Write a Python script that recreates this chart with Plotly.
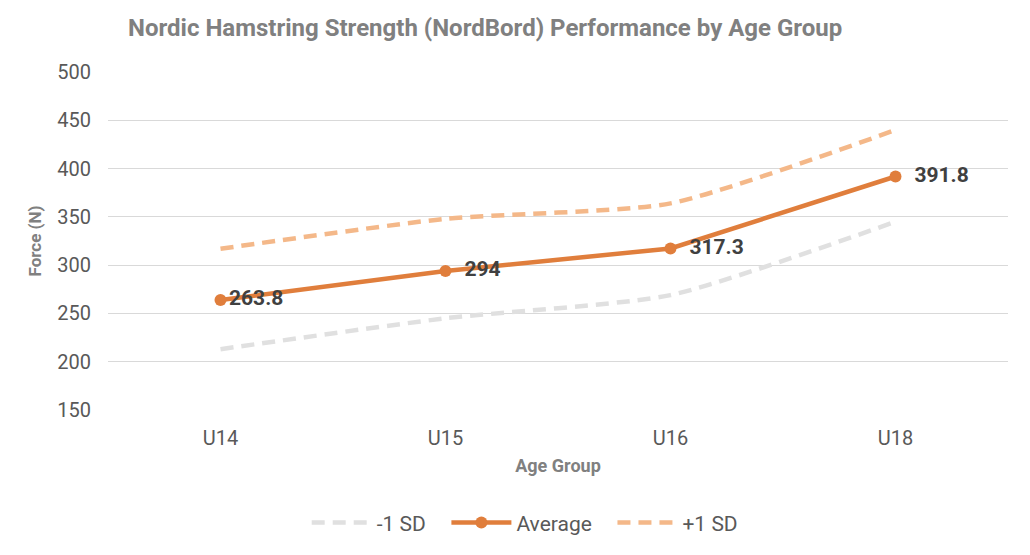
import plotly.graph_objects as go

categories = ["U14", "U15", "U16", "U18"]
minus_sd = [213, 245, 269, 345]
average = [263.8, 294, 317.3, 391.8]
plus_sd = [317, 348, 364, 440]
avg_labels = ["263.8", "\u00a0\u00a0294", "\u00a0\u00a0317.3", "\u00a0\u00a0391.8"]

FONT = "Roboto, Arial, sans-serif"
PAD = "\u00a0\u00a0\u00a0"

fig = go.Figure()
fig.add_trace(go.Scatter(
    x=categories, y=minus_sd, name="-1 SD" + PAD, mode="lines",
    line=dict(color="#E0E0E0", width=4.5, dash="13px,8px", shape="spline", smoothing=0.6),
))
fig.add_trace(go.Scatter(
    x=categories, y=average, name="Average" + PAD, mode="lines+markers+text",
    line=dict(color="#E07E3C", width=4.5),
    marker=dict(size=12, color="#E07E3C"),
    text=avg_labels, textposition="middle right",
    textfont=dict(family=FONT, size=21, color="#404040", weight="bold"),
))
fig.add_trace(go.Scatter(
    x=categories, y=plus_sd, name="+1 SD", mode="lines",
    line=dict(color="#F4B889", width=4.5, dash="13px,8px", shape="spline", smoothing=0.6),
))

fig.update_layout(
    width=1030, height=555,
    margin=dict(l=100, r=30, t=64, b=153),
    paper_bgcolor="white", plot_bgcolor="white",
    font=dict(family=FONT, color="#595959", size=20),
    title=dict(
        text="<b>Nordic Hamstring Strength (NordBord) Performance by Age Group</b>",
        x=120/1030, xanchor="left", y=1 - 20/555, yanchor="middle",
        font=dict(family=FONT, size=24, color="#808080"),
    ),
    showlegend=True,
    legend=dict(
        orientation="h", x=0.463, xanchor="center", y=-0.334, yanchor="middle",
        font=dict(family=FONT, size=21, color="#595959"),
        itemwidth=60, traceorder="normal",
    ),
    xaxis=dict(
        type="category", range=[-0.5, 3.5],
        showgrid=False, showline=False, zeroline=False,
        ticks="", ticklabelstandoff=14,
        tickfont=dict(family=FONT, size=20, color="#595959"),
        title=dict(text="<b>Age Group</b>", font=dict(family=FONT, size=18, color="#808080"), standoff=10),
    ),
    yaxis=dict(
        range=[150, 500], dtick=50, tick0=150,
        showgrid=True, gridcolor="#D9D9D9", gridwidth=1.3,
        zeroline=False, showline=False, ticks="",
        ticklabelstandoff=16,
        tickfont=dict(family=FONT, size=20, color="#595959"),
        title=dict(text="<b>Force (N)</b>", font=dict(family=FONT, size=17, color="#808080"), standoff=11),
    ),
)

fig.write_html("out.html")
